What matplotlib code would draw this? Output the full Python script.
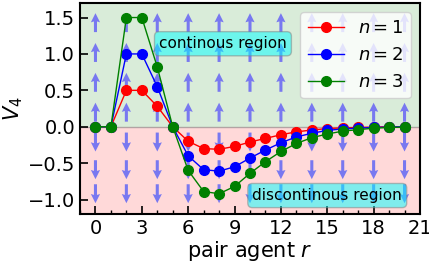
import numpy as np
import matplotlib
matplotlib.use("Agg")
import matplotlib.pyplot as plt

# values
r = list(range(0, 21))
v_n1 = [0, 0, 0.5, 0.5, 0.28, 0, -0.2, -0.3, -0.31, -0.27, -0.21, -0.16,
        -0.11, -0.07, -0.045, -0.025, -0.015, -0.01, -0.005, 0, 0]
v_n2 = [0, 0, 1.0, 1.0, 0.55, 0, -0.4, -0.59, -0.61, -0.55, -0.43, -0.32,
        -0.22, -0.14, -0.09, -0.05, -0.03, -0.02, -0.01, -0.005, 0]
v_n3 = [0, 0, 1.5, 1.5, 0.82, 0, -0.6, -0.89, -0.92, -0.82, -0.64, -0.48,
        -0.34, -0.23, -0.15, -0.1, -0.06, -0.04, -0.02, -0.01, -0.005]
series = [(v_n1, "red", r"$n=1$"), (v_n2, "blue", r"$n=2$"), (v_n3, "green", r"$n=3$")]

arrow_x = [0, 2, 4, 6, 8, 10, 12, 14, 16, 18, 20]
arrow_y_up = [1.43, 1.02, 0.61, 0.20]
arrow_y_down = [-0.21, -0.59, -0.92]
arrow_len = 0.26

fig = plt.figure(figsize=(4.29, 2.7), dpi=100)
ax = fig.add_axes([0.1865, 0.207, 0.7925, 0.782])

ax.axhspan(0, 1.7, color="green", alpha=0.15, lw=0, zorder=0)
ax.axhspan(-1.2, 0, color="red", alpha=0.15, lw=0, zorder=0)
ax.axhline(0, color="gray", lw=1, alpha=0.6, zorder=1)

qkw = dict(angles="xy", scale_units="xy", scale=1, pivot="mid", color="#7878f0",
           width=0.009, headwidth=3, headlength=3, headaxislength=2.7, zorder=2)
X, Y = np.meshgrid(arrow_x, arrow_y_up)
ax.quiver(X, Y, np.zeros_like(X), np.full(X.shape, arrow_len), **qkw)
X, Y = np.meshgrid(arrow_x, arrow_y_down)
ax.quiver(X, Y, np.zeros_like(X), np.full(X.shape, -arrow_len), **qkw)

for vals, c, lab in series:
    ax.plot(r, vals, "-o", color=c, lw=1, ms=7, label=lab, zorder=3)

bbox = dict(boxstyle="round", facecolor="cyan", alpha=0.5, edgecolor="gray")
ax.text(8.25, 1.14, "continous region", ha="center", va="center", fontsize=11,
        bbox=bbox, zorder=4)
ax.text(15.0, -0.945, "discontinous region", ha="center", va="center", fontsize=11,
        bbox=bbox, zorder=4)

leg = ax.legend(loc="upper right", fontsize=13, handlelength=2, borderaxespad=0.5)
leg.set_zorder(5)

ax.set_xlim(-1, 21)
ax.set_ylim(-1.2, 1.7)
ax.set_xticks([0, 3, 6, 9, 12, 15, 18, 21])
ax.set_xticks(range(-1, 22), minor=True)
ax.set_yticks([-1.0, -0.5, 0.0, 0.5, 1.0, 1.5])
ax.tick_params(direction="in", labelsize=14, length=6, width=1.2)
ax.tick_params(which="minor", direction="in", length=3, width=1)
for s in ax.spines.values():
    s.set_linewidth(1.5)
ax.set_xlabel(r"pair agent $r$", fontsize=15, labelpad=1)
ax.set_ylabel(r"$V_4$", fontsize=15, labelpad=2)

fig.savefig("out.png", dpi=100)
